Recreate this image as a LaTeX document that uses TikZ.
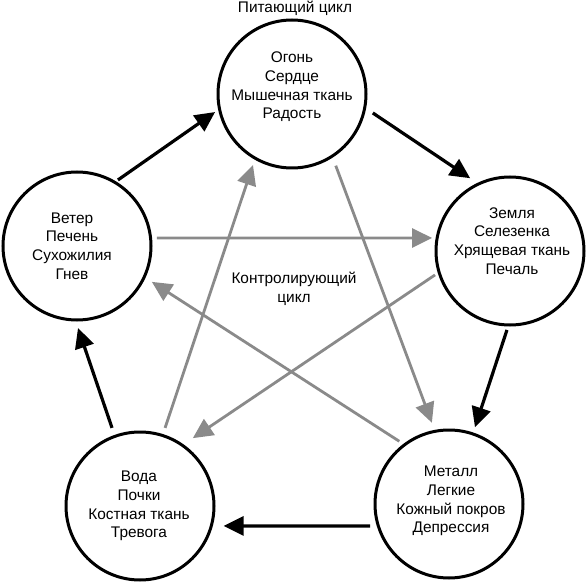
\documentclass[tikz,border=0pt]{standalone}
\usepackage{fontspec}
\setmainfont{Liberation Sans}
\usetikzlibrary{arrows.meta,calc}
\begin{document}
\begin{tikzpicture}[x=1pt,y=-1pt,
  elem/.style={circle,draw=black,line width=3pt,minimum size=148pt,inner sep=0pt},
  txt/.style={align=center,font=\fontsize{15.4}{18.6}\selectfont,inner sep=0pt},
  lbl/.style={align=center,font=\fontsize{15.4}{19}\selectfont,inner sep=0pt},
  feed/.style={draw=black,line width=3.2pt,-{Triangle[length=20pt,width=19pt]}},
  ctrl/.style={draw=ctrlgray,line width=2.8pt,-{Triangle[length=20pt,width=19pt]}}]
\definecolor{ctrlgray}{HTML}{8A8A8A}
\useasboundingbox (0,0) rectangle (587,583);
% circles
\node[elem] (F) at (292,94) {};
\node[elem] (E) at (510,251) {};
\node[elem] (M) at (449,504) {};
\node[elem] (W) at (140,506) {};
\node[elem] (Wi) at (77,246) {};
% texts
\node[txt] (Ft) at (292,87) {Огонь\\Сердце\\Мышечная ткань\\Радость};
\node[txt] (Et) at (512,241) {Земля\\Селезенка\\Хрящевая ткань\\Печаль};
\node[txt] (Mt) at (451,501) {Металл\\Легкие\\Кожный покров\\Депрессия};
\node[txt] (Wt) at (139,506) {Вода\\Почки\\Костная ткань\\Тревога};
\node[txt] (Wit) at (72,246) {Ветер\\Печень\\Сухожилия\\Гнев};
\node[lbl] (top) at (295,8) {Питающий цикл};
\node[lbl] (mid) at (294,289) {Контролирующий\\цикл};
% controlling cycle (gray)
\draw[ctrl] ($(Wi)+(-5.7:80.4)$) -- ($(E)+(-170.5:79)$);
\draw[ctrl] ($(E)+(-197.7:78.7)$) -- ($(W)+(-52.1:86)$);
\draw[ctrl] ($(W)+(-72.2:82)$) -- ($(F)+(118.8:81)$);
\draw[ctrl] ($(F)+(58.6:84)$) -- ($(M)+(-101.9:83)$);
\draw[ctrl] ($(M)+(-128.4:80)$) -- ($(Wi)+(25.6:83)$);
% nourishing cycle (black)
\draw[feed] ($(Wi)+(-58.2:77.7)$) -- ($(F)+(-193.2:79)$);
\draw[feed] ($(F)+(13.2:83)$) -- ($(E)+(-118.7:83)$);
\draw[feed] ($(E)+(92.2:79)$) -- ($(M)+(-71.3:81)$);
\draw[feed] ($(M)+(-195.6:82)$) -- ($(W)+(13.4:86)$);
\draw[feed] ($(W)+(-109.7:83)$) -- ($(Wi)+(89.3:82)$);
\end{tikzpicture}
\end{document}
